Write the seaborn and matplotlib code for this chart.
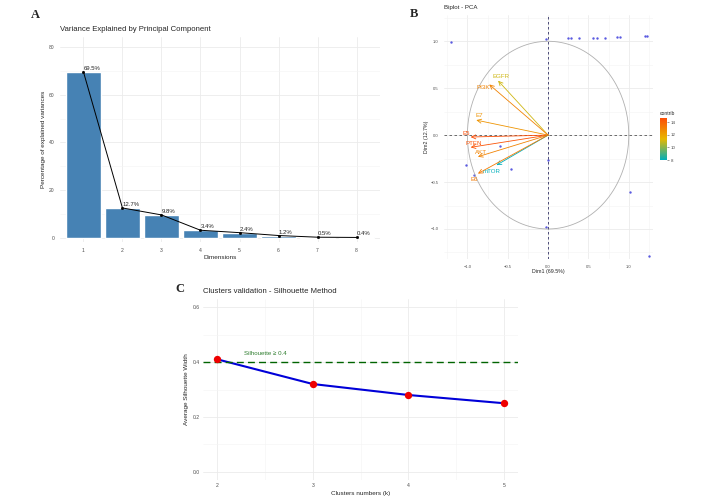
import numpy as np
import matplotlib
matplotlib.use("Agg")
import matplotlib.pyplot as plt
import matplotlib.ticker as mticker
import seaborn as sns
from matplotlib.colors import LinearSegmentedColormap, Normalize

# ---- data ----
dim_labels = ["1", "2", "3", "4", "5", "6", "7", "8"]
variance_pct = [69.5, 12.7, 9.8, 3.4, 2.4, 1.2, 0.5, 0.4]

var_names = ["EGFR", "PI3K", "E7", "E5", "PTEN", "AKT", "mTOR", "E6"]
var_dim1 = [-0.62, -0.73, -0.89, -0.96, -0.96, -0.87, -0.64, -0.87]
var_dim2 = [0.58, 0.54, 0.16, -0.02, -0.13, -0.23, -0.32, -0.41]
var_contrib = [11.0, 13.0, 12.5, 14.7, 14.5, 13.0, 8.0, 13.3]

ind_dim1 = [-1.20, -0.02, 0.25, 0.28, 0.38, 0.56, 0.60, 0.71, 0.85, 0.89, 1.20, 1.23,
            -0.60, -1.02, -0.46, 0.00, 1.02, -0.02, 1.25, -0.92]
ind_dim2 = [0.99, 1.02, 1.03, 1.03, 1.03, 1.04, 1.04, 1.04, 1.05, 1.05, 1.06, 1.06,
            -0.12, -0.32, -0.36, -0.27, -0.61, -0.98, -1.29, -0.42]

k_values = [2, 3, 4, 5]
silhouette = [0.41, 0.32, 0.28, 0.25]
silhouette_cut = 0.4

# label offsets (points) for the biplot arrows
label_offsets = [(2, 3), (-4, -2.5), (2.4, 3), (-3.4, 2.6), (2, 3), (2, 2.7), (-3.6, -4.3), (-2.6, -4.3)]

sns.set_theme(style="whitegrid")
plt.rcParams["font.family"] = ["Liberation Sans", "DejaVu Sans"]

W, H = 706, 497
fig = plt.figure(figsize=(W / 100, H / 100), dpi=100)


def px_axes(left, right, top, bottom):
    return fig.add_axes([left / W, 1 - bottom / H, (right - left) / W, (bottom - top) / H])


def style_axes(ax, xminor=None, yminor=None, ticks=True):
    for s in ax.spines.values():
        s.set_visible(False)
    ax.xaxis.set_minor_locator(mticker.MultipleLocator(xminor) if xminor else mticker.NullLocator())
    ax.yaxis.set_minor_locator(mticker.MultipleLocator(yminor) if yminor else mticker.NullLocator())
    ax.grid(True, which="major", color="#EBEBEB", linewidth=0.6)
    ax.grid(True, which="minor", color="#F4F4F4", linewidth=0.4)
    ax.tick_params(which="major", labelsize=3.6, labelcolor="#4D4D4D",
                   length=2 if ticks else 0, width=0.5, color="#333333", pad=2)
    ax.tick_params(which="minor", length=0)
    ax.set_axisbelow(True)


# ---- Panel A: scree plot ----
axA = px_axes(60, 380, 37, 242)
sns.barplot(x=dim_labels, y=variance_pct, color="#4682B4", saturation=1, width=0.9, ax=axA)
sns.pointplot(x=dim_labels, y=variance_pct, color="black", markersize=1.6, linewidth=0.7, ax=axA)
for i, v in enumerate(variance_pct):
    axA.text(i, v + 0.4, f"{v}%", ha="left", va="bottom", fontsize=4.3, color="#222222")
axA.set_xlim(-0.6, 7.6)
axA.set_ylim(-1.5, 84)
axA.set_yticks([0, 20, 40, 60, 80])
style_axes(axA, yminor=10)
axA.set_title("Variance Explained by Principal Component", loc="left", fontsize=5.6, pad=4)
axA.set_xlabel("Dimensions", fontsize=4.6, labelpad=1.5)
axA.set_ylabel("Percentage of explained variances", fontsize=4.6, labelpad=2)

# ---- Panel B: biplot ----
axB = px_axes(444, 653, 15, 259)
sns.scatterplot(x=ind_dim1, y=ind_dim2, color="#5A5AE0", s=3, marker="o", linewidth=0, ax=axB)
theta = np.linspace(0, 2 * np.pi, 300)
axB.plot(np.cos(theta), np.sin(theta), color="#B0B0B0", linewidth=0.6)
axB.axhline(0, color="#555555", linestyle=(0, (3, 3)), linewidth=0.6)
axB.axvline(0, color="#333366", linestyle=(0, (3, 3)), linewidth=0.6)

cmap = LinearSegmentedColormap.from_list("contrib", ["#00AFBB", "#E7B800", "#FC4E07"])
norm = Normalize(vmin=min(var_contrib), vmax=max(var_contrib))
for name, x, y, c, off in zip(var_names, var_dim1, var_dim2, var_contrib, label_offsets):
    col = cmap(norm(c))
    axB.annotate("", xy=(x, y), xytext=(0, 0),
                 arrowprops=dict(arrowstyle="->,head_length=0.25,head_width=0.12",
                                 color=col, linewidth=0.6, shrinkA=0, shrinkB=0))
    axB.annotate(name, xy=(x, y), xytext=off, textcoords="offset points",
                 ha="center", va="center", fontsize=4.4, color=col)
axB.set_xlim(-1.29, 1.30)
axB.set_ylim(-1.32, 1.28)
axB.set_xticks([-1.0, -0.5, 0.0, 0.5, 1.0])
axB.set_yticks([-1.0, -0.5, 0.0, 0.5, 1.0])
style_axes(axB, xminor=0.25, yminor=0.25)
axB.tick_params(labelsize=3.0)
axB.set_title("Biplot - PCA", loc="left", fontsize=4.4, pad=4)
axB.set_xlabel("Dim1 (69.5%)", fontsize=3.8, labelpad=0.5)
axB.set_ylabel("Dim2 (12.7%)", fontsize=3.8, labelpad=1)

cax = px_axes(660, 667, 118, 160)
cb = fig.colorbar(matplotlib.cm.ScalarMappable(norm=norm, cmap=cmap), cax=cax)
cb.outline.set_visible(False)
cb.set_ticks([8, 10, 12, 14])
cax.minorticks_off()
cax.tick_params(labelsize=3.2, length=1.5, width=0.4, colors="#4D4D4D", pad=1)
cax.set_title("contrib", fontsize=3.6, pad=2, loc="left")

# ---- Panel C: silhouette ----
axC = px_axes(203, 518, 299, 480)
sns.lineplot(x=k_values, y=silhouette, color="#0000D8", linewidth=1.5, ax=axC)
sns.scatterplot(x=k_values, y=silhouette, color="#EE0000", s=28, linewidth=0, zorder=3, ax=axC)
axC.axhline(silhouette_cut, color="#006400", linestyle=(0, (5, 3)), linewidth=1.0)
axC.text(2.5, silhouette_cut + 0.03, "Silhouette \u2265 0.4", color="#2E7D2E",
         fontsize=4.4, ha="center", va="center")
axC.set_xlim(1.85, 5.15)
axC.set_ylim(-0.03, 0.63)
axC.set_xticks(k_values)
axC.set_yticks([0.0, 0.2, 0.4, 0.6])
style_axes(axC, xminor=0.5, yminor=0.1, ticks=False)
axC.set_title("Clusters validation - Silhouette Method", loc="left", fontsize=5.6, pad=4)
axC.set_xlabel("Clusters numbers (k)", fontsize=4.6, labelpad=2)
axC.set_ylabel("Average Silhouette Width", fontsize=4.6, labelpad=3)

# panel letters
for letter, x, y in [("A", 35, 15), ("B", 414, 14), ("C", 180, 289)]:
    fig.text(x / W, 1 - y / H, letter, fontsize=9, fontweight="bold",
             family="Liberation Serif", ha="center", va="center")

fig.savefig("out.png", dpi=100, facecolor="white")
